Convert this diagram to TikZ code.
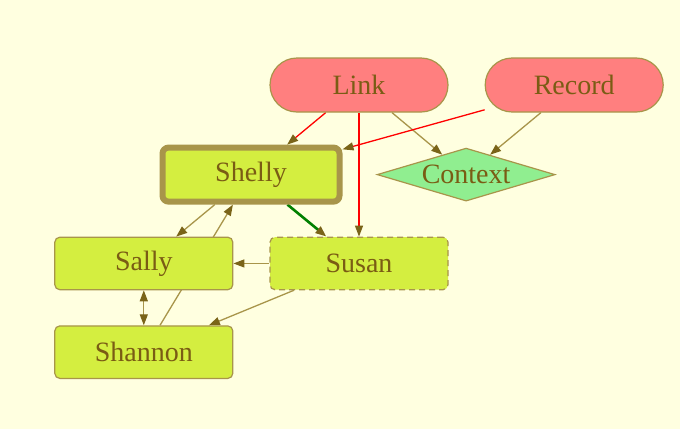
\documentclass[tikz,border=0pt]{standalone}
\usepackage{fontspec}
\setmainfont{Liberation Serif}
\usepackage{tikz}
\usetikzlibrary{arrows.meta,positioning,backgrounds,shapes.geometric}
\usepackage{xcolor}

\definecolor{bgyellow}{HTML}{FFFFE0}
\definecolor{rosefill}{HTML}{FF7F7F}
\definecolor{limefill}{HTML}{D4EE40}
\definecolor{mintfill}{HTML}{90EE90}
\definecolor{olivedraw}{HTML}{A8954A}
\definecolor{tipbrown}{HTML}{7A6418}
\definecolor{labelbrown}{HTML}{7A5C14}
\definecolor{edgegreen}{HTML}{008000}

\begin{document}
\begin{tikzpicture}[
    x=1pt, y=1pt,
    base/.style={draw=olivedraw, line width=1.2pt, align=center, text=labelbrown, font=\fontsize{28}{34}\selectfont, inner sep=0pt},
    term/.style={base, rectangle, fill=rosefill, rounded corners=27pt, minimum width=178pt, minimum height=54pt},
    person/.style={base, rectangle, fill=limefill, rounded corners=5pt, minimum width=178pt, minimum height=52.5pt},
    focus/.style={person, line width=6pt, rounded corners=6pt, minimum width=177pt, minimum height=54pt},
    guess/.style={person, dashed, dash pattern=on 6pt off 4pt},
    choice/.style={base, diamond, fill=mintfill, aspect=3.36, minimum width=178pt, minimum height=53pt},
    arrow/.style={-{Triangle[length=11pt, width=8pt, color=tipbrown]}, draw=olivedraw, line width=1.3pt},
    hot/.style={arrow, draw=red},
    strong/.style={arrow, draw=edgegreen, line width=2.6pt}
]
  \useasboundingbox (0,0) rectangle (680,-429);

  % Nodes
  \node (link) [term] at (359,-85) {Link};
  \node (record) [term, right=36pt of link] {Record};
  \node (shelly) [focus, below=32pt of link, xshift=-108pt] {Shelly};
  \node (context) [choice, right=34pt of shelly] {Context};
  \node (susan) [guess, below=124pt of link] {Susan};
  \node (sally) [person, left=36pt of susan] {Sally};
  \node (shannon) [person, below=35pt of sally] {Shannon};

  % Edges, kept behind the nodes
  \begin{scope}[on background layer]
    \fill [bgyellow] (0,0) rectangle (680,-429);
    \draw [hot] (link) -- (shelly);
    \draw [hot] (link) -- (susan);
    \draw [arrow] (link) -- (context);
    \draw [hot] (record) -- (shelly);
    \draw [arrow] (record) -- (context);
    \draw [strong] (shelly) -- (susan);
    \draw [arrow] (shelly) -- (sally);
    \draw [arrow] (shannon) -- (shelly);
    \draw [arrow] (susan) -- (sally);
    \draw [arrow] (susan) -- (shannon);
    \draw [arrow, {Triangle[length=11pt, width=8pt, color=tipbrown]}-{Triangle[length=11pt, width=8pt, color=tipbrown]}] (sally) -- (shannon);
  \end{scope}

\end{tikzpicture}
\end{document}
